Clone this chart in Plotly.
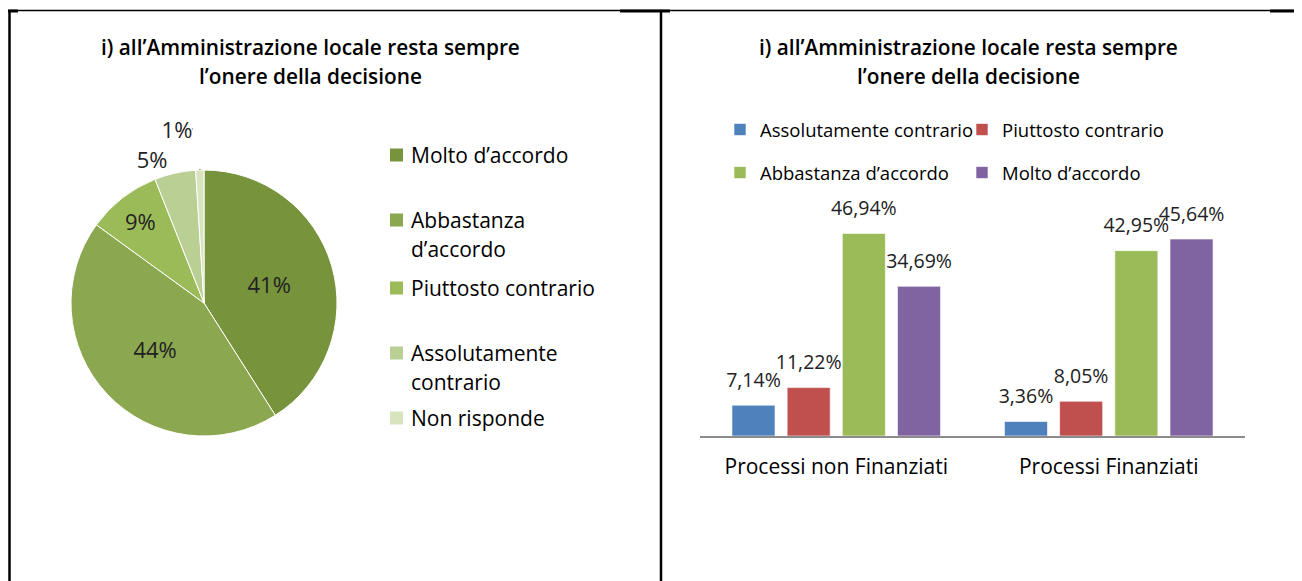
import plotly.graph_objects as go

# ---------------- data ----------------
title_lines = ["i) all’Amministrazione locale resta sempre", "l’onere della decisione"]

pie_labels = ["Molto d’accordo", "Abbastanza d’accordo", "Piuttosto contrario",
              "Assolutamente contrario", "Non risponde"]
pie_legend_text = ["Molto d’accordo", "Abbastanza<br>d’accordo", "Piuttosto contrario",
                   "Assolutamente<br>contrario", "Non risponde"]
pie_values = [41, 44, 9, 5, 1]
pie_colors = ["#77933C", "#8BA74F", "#9BBB59", "#BACF93", "#D7E4BD"]
pie_textpos = ["inside", "inside", "inside", "outside", "outside"]

bar_categories = ["Processi non Finanziati", "Processi Finanziati"]
bar_series = ["Assolutamente contrario", "Piuttosto contrario",
              "Abbastanza d’accordo", "Molto d’accordo"]
bar_values = {
    "Assolutamente contrario": [7.14, 3.36],
    "Piuttosto contrario": [11.22, 8.05],
    "Abbastanza d’accordo": [46.94, 42.95],
    "Molto d’accordo": [34.69, 45.64],
}
bar_colors = ["#4F81BD", "#C0504D", "#9BBB59", "#8064A2"]

# ---------------- layout helpers ----------------
# the page body has an 8px margin, so the figure is sized to fill the rest
OFF = 8
W, H = 1302 - OFF, 581 - OFF
FONT = "'Open Sans', 'Noto Sans', sans-serif"
TXT = "#000000"
LBL = "#222222"


def px(x):
    return (x - OFF) / W


def py(y):
    return 1 - (y - OFF) / H


fig = go.Figure()

# pie chart
fig.add_trace(go.Pie(
    labels=pie_labels, values=pie_values, sort=False, direction="clockwise",
    rotation=0, marker=dict(colors=pie_colors, line=dict(color="white", width=1)),
    texttemplate="%{percent:.0%}", textposition=pie_textpos,
    insidetextorientation="horizontal",
    textfont=dict(family=FONT, size=22, color=LBL),
    domain=dict(x=[px(71), px(337)], y=[py(436), py(170)]),
    showlegend=False, hoverinfo="label+percent",
))

# bar chart (a small spacer line lifts the value labels a little above the bars)
bar_label_tpl = "<span style='font-size:19.5px'>%{y:.2f}%</span><br>\u00a0"
legend_for = ["legend2", "legend2", "legend3", "legend3"]
for name, color, lg in zip(bar_series, bar_colors, legend_for):
    fig.add_trace(go.Bar(
        x=bar_categories, y=bar_values[name], name=name,
        marker=dict(color=color, line=dict(color="rgba(255,255,255,0.6)", width=1)),
        texttemplate=bar_label_tpl, textposition="outside", cliponaxis=False,
        constraintext="none",
        textfont=dict(family=FONT, size=9.5, color=LBL),
        hovertemplate="%{x}<br>" + name + ": %{y:.2f}%<extra></extra>",
        legend=lg,
    ))

annotations = []
for cx in (310, 968):
    for i, line in enumerate(title_lines):
        annotations.append(dict(text=line, x=px(cx), y=py(47 + 29 * i),
                                xref="paper", yref="paper", showarrow=False,
                                font=dict(family=FONT, size=20.8, color=TXT, weight=600),
                                xanchor="center", yanchor="middle"))
shapes = []

# pie legend (drawn as squares + text)
slot_y = [155, 220, 288, 353, 418]
for label, color, y0 in zip(pie_legend_text, pie_colors, slot_y):
    shapes.append(dict(type="rect", xref="paper", yref="paper",
                       x0=px(390), x1=px(403), y0=py(y0 + 6.5), y1=py(y0 - 6.5),
                       fillcolor=color, line=dict(width=0)))
    for i, line in enumerate(label.split("<br>")):
        annotations.append(dict(text=line, x=px(409), y=py(y0 + i * 29),
                                xref="paper", yref="paper", showarrow=False,
                                xanchor="left", yanchor="middle",
                                font=dict(family=FONT, size=21, color=TXT)))

# hide the leader line plotly adds to the small outside pie label
shapes.append(dict(type="rect", xref="paper", yref="paper", layer="above",
                   x0=px(192.5), x1=px(203.5), y0=py(169.6), y1=py(115),
                   fillcolor="white", line=dict(width=0)))

# table borders
shapes += [
    dict(type="line", xref="paper", yref="paper", x0=px(8), x1=1, y0=py(10.5), y1=py(10.5),
         line=dict(color="black", width=1.5)),
    dict(type="line", xref="paper", yref="paper", x0=px(8), x1=px(18), y0=py(11), y1=py(11),
         line=dict(color="black", width=3)),
    dict(type="line", xref="paper", yref="paper", x0=px(620), x1=px(670), y0=py(11), y1=py(11),
         line=dict(color="black", width=3)),
    dict(type="line", xref="paper", yref="paper", x0=px(1270), x1=1, y0=py(11), y1=py(11),
         line=dict(color="black", width=3)),
    dict(type="line", xref="paper", yref="paper", x0=px(9.5), x1=px(9.5), y0=py(10), y1=0,
         line=dict(color="black", width=2.5)),
    dict(type="line", xref="paper", yref="paper", x0=px(661), x1=px(661), y0=py(10), y1=0,
         line=dict(color="black", width=2.5)),
]

leg_common = dict(orientation="h", xanchor="left", yanchor="middle",
                  font=dict(family=FONT, size=18.5, color=TXT),
                  bgcolor="rgba(0,0,0,0)", entrywidth=197, itemclick=False,
                  tracegroupgap=0)

fig.update_layout(
    width=W, height=H, margin=dict(l=0, r=0, t=0, b=0),
    paper_bgcolor="white", plot_bgcolor="white",
    separators=",.",
    font=dict(family=FONT, color=TXT),
    barmode="group", bargap=0.19, bargroupgap=0.22,
    xaxis=dict(domain=[px(700), px(1245)], showline=True, linecolor="#8C8C8C",
               linewidth=2, ticks="", showgrid=False, zeroline=False,
               tickfont=dict(family=FONT, size=21, color=TXT),
               ticklabelstandoff=11, fixedrange=True),
    yaxis=dict(domain=[py(436), py(190)], range=[0, 57], visible=False,
               showgrid=False, zeroline=False, fixedrange=True),
    legend2=dict(x=px(720), y=py(130), **leg_common),
    legend3=dict(x=px(720), y=py(173), **leg_common),
    showlegend=True,
    annotations=annotations, shapes=shapes,
)

fig.write_html("out.html")
